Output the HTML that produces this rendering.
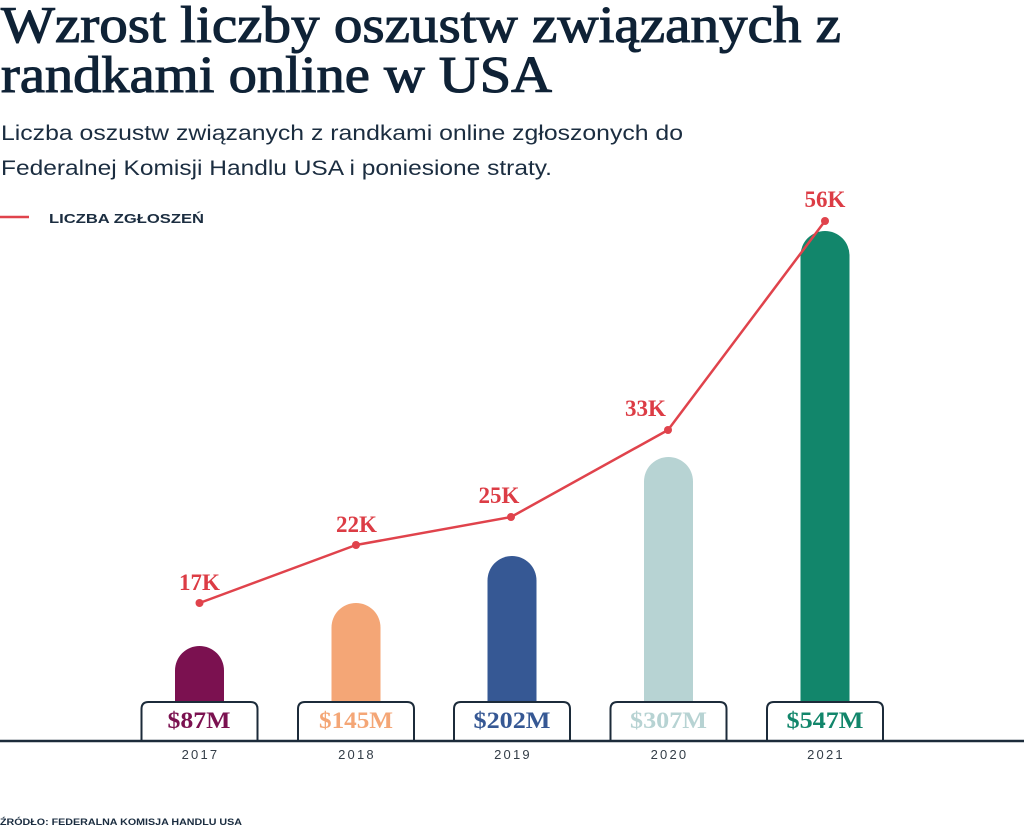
<!DOCTYPE html>
<html>
<head>
<meta charset="utf-8">
<style>
  html, body { margin:0; padding:0; background:#ffffff; }
  svg { display:block; }
  .serif { font-family: "Liberation Serif", "DejaVu Serif", serif; }
  .sans { font-family: "Liberation Sans", "DejaVu Sans", sans-serif; }
</style>
</head>
<body>
<svg width="1024" height="830" viewBox="0 0 1024 830" xmlns="http://www.w3.org/2000/svg">
  <rect width="1024" height="830" fill="#ffffff"/>

  <!-- Title -->
  <text class="serif" x="1" y="42" font-size="52" fill="#0f2236" stroke="#0f2236" stroke-width="1.1" textLength="840" lengthAdjust="spacingAndGlyphs">Wzrost liczby oszustw związanych z</text>
  <text class="serif" x="1" y="92" font-size="52" fill="#0f2236" stroke="#0f2236" stroke-width="1.1" textLength="551" lengthAdjust="spacingAndGlyphs">randkami online w USA</text>

  <!-- Subtitle -->
  <text class="sans" x="1" y="140" font-size="21" fill="#1b2d40" textLength="682" lengthAdjust="spacingAndGlyphs">Liczba oszustw związanych z randkami online zgłoszonych do</text>
  <text class="sans" x="1" y="175" font-size="21" fill="#1b2d40" textLength="551" lengthAdjust="spacingAndGlyphs">Federalnej Komisji Handlu USA i poniesione straty.</text>

  <!-- Legend -->
  <line x1="0" y1="217" x2="29" y2="217" stroke="#e0434c" stroke-width="2.5"/>
  <text class="sans" x="49" y="223" font-size="13" font-weight="bold" fill="#1b2d40" textLength="155" lengthAdjust="spacingAndGlyphs">LICZBA ZGŁOSZEŃ</text>

  <!-- Bars -->
  <path d="M175,705 V670.5 A24.5,24.5 0 0 1 224,670.5 V705 Z" fill="#7b1150"/>
  <path d="M331.5,705 V627.5 A24.5,24.5 0 0 1 380.5,627.5 V705 Z" fill="#f4a676"/>
  <path d="M487.5,705 V580.5 A24.5,24.5 0 0 1 536.5,580.5 V705 Z" fill="#365894"/>
  <path d="M644,705 V481.5 A24.5,24.5 0 0 1 693,481.5 V705 Z" fill="#b7d3d3"/>
  <path d="M800.5,705 V255.5 A24.5,24.5 0 0 1 849.5,255.5 V705 Z" fill="#12866b"/>

  <!-- Line series -->
  <polyline points="199.5,603 356,545 511,517 668,430 825,221" fill="none" stroke="#e0434c" stroke-width="2.5" stroke-linejoin="round"/>
  <g fill="#e0434c">
    <circle cx="199.5" cy="603" r="4"/>
    <circle cx="356" cy="545" r="4"/>
    <circle cx="511" cy="517" r="4"/>
    <circle cx="668" cy="430" r="4"/>
    <circle cx="825" cy="221" r="4"/>
  </g>
  <g class="serif" font-size="23" font-weight="bold" fill="#dc3c45" text-anchor="middle">
    <text x="199.5" y="590">17K</text>
    <text x="356.5" y="532">22K</text>
    <text x="499" y="503">25K</text>
    <text x="645.5" y="416">33K</text>
    <text x="825" y="207">56K</text>
  </g>

  <!-- Value boxes -->
  <g fill="#ffffff" stroke="#1c2b3a" stroke-width="2">
    <path d="M141.5,742 V709 Q141.5,702 148.5,702 H250.5 Q257.5,702 257.5,709 V742"/>
    <path d="M298,742 V709 Q298,702 305,702 H407 Q414,702 414,709 V742"/>
    <path d="M454,742 V709 Q454,702 461,702 H563 Q570,702 570,709 V742"/>
    <path d="M610.5,742 V709 Q610.5,702 617.5,702 H719.5 Q726.5,702 726.5,709 V742"/>
    <path d="M767,742 V709 Q767,702 774,702 H876 Q883,702 883,709 V742"/>
  </g>

  <g class="serif" font-size="23" font-weight="bold" text-anchor="middle">
    <text x="199" y="728" fill="#7b1150" textLength="63" lengthAdjust="spacingAndGlyphs">$87M</text>
    <text x="356" y="728" fill="#f4a676" textLength="74" lengthAdjust="spacingAndGlyphs">$145M</text>
    <text x="512" y="728" fill="#365894" textLength="77" lengthAdjust="spacingAndGlyphs">$202M</text>
    <text x="668.5" y="728" fill="#b7d3d3" textLength="77" lengthAdjust="spacingAndGlyphs">$307M</text>
    <text x="825" y="728" fill="#12866b" textLength="77" lengthAdjust="spacingAndGlyphs">$547M</text>
  </g>

  <!-- Axis -->
  <line x1="0" y1="741" x2="1024" y2="741" stroke="#1c2b3a" stroke-width="2.5"/>

  <!-- Year labels -->
  <g class="sans" font-size="13" fill="#333d47" text-anchor="middle" letter-spacing="2.2">
    <text x="200.5" y="759">2017</text>
    <text x="357" y="759">2018</text>
    <text x="513" y="759">2019</text>
    <text x="669.5" y="759">2020</text>
    <text x="826" y="759">2021</text>
  </g>

  <!-- Source -->
  <text class="sans" x="0" y="825" font-size="9.5" font-weight="bold" fill="#1b2d40" textLength="242" lengthAdjust="spacingAndGlyphs">ŹRÓDŁO: FEDERALNA KOMISJA HANDLU USA</text>
</svg>
</body>
</html>
